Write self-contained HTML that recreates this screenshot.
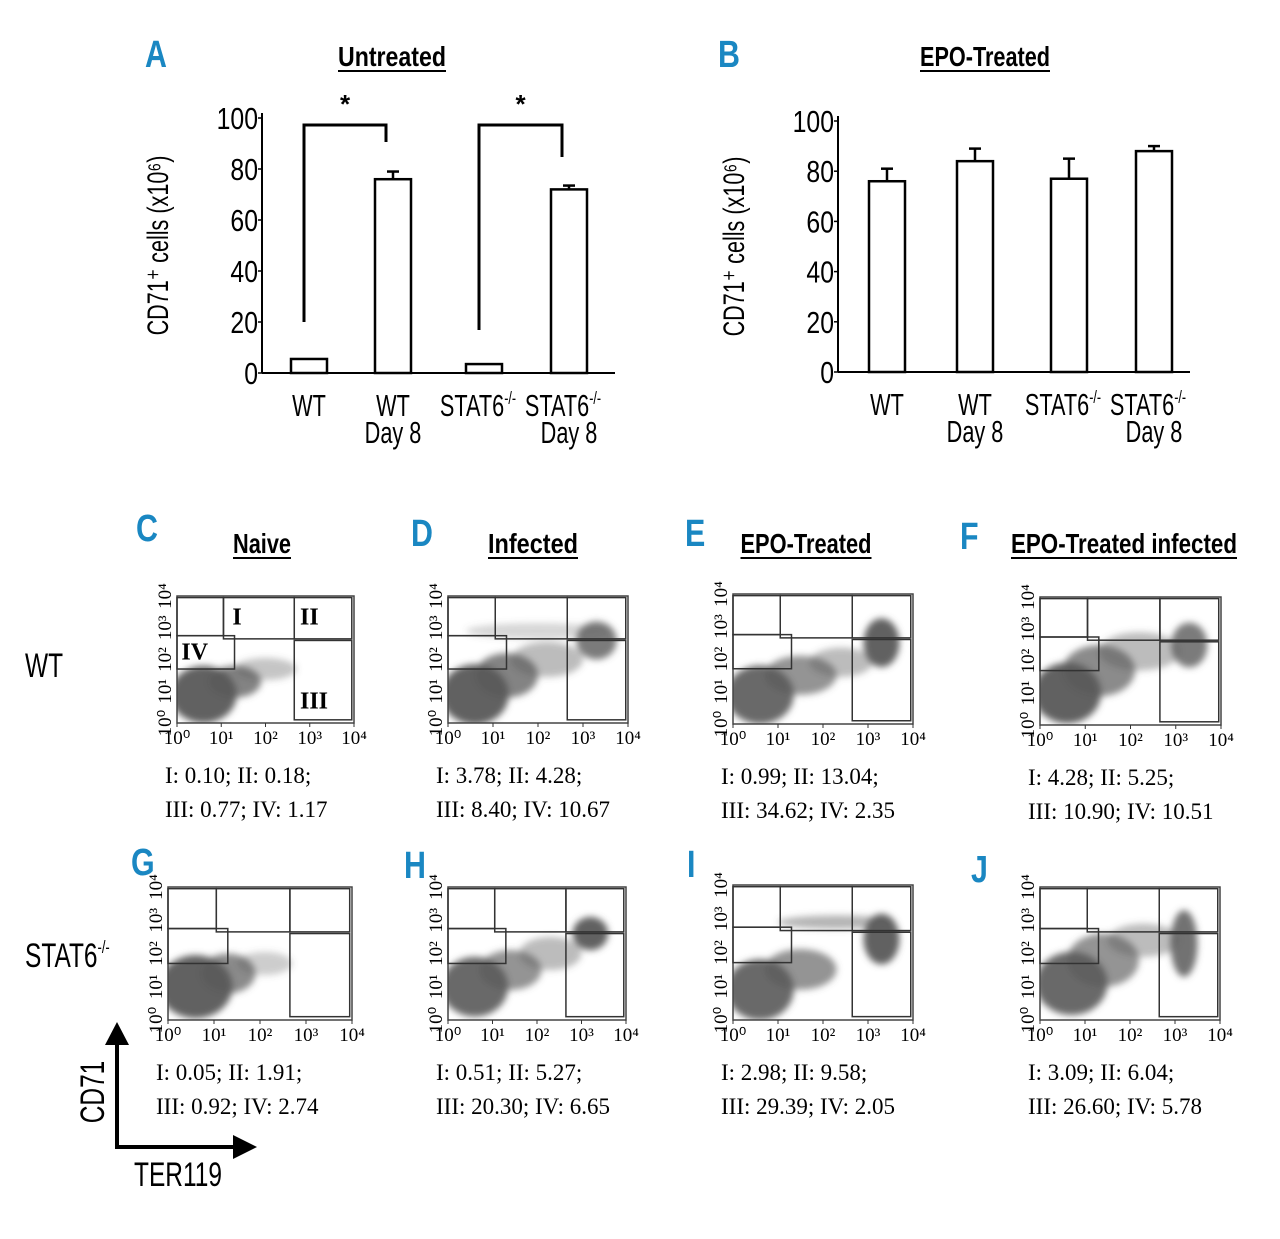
<!DOCTYPE html>
<html><head><meta charset="utf-8">
<style>
html,body{margin:0;padding:0;background:#fff;}
svg{display:block;}
text{font-family:"Liberation Sans",sans-serif;}
.serif{font-family:"Liberation Serif",serif;}
</style></head>
<body>
<svg id="fig" width="1280" height="1239" viewBox="0 0 1280 1239" xmlns="http://www.w3.org/2000/svg">
<defs>
<filter id="blur" x="-50%" y="-50%" width="200%" height="200%"><feGaussianBlur stdDeviation="3.5"/></filter>
</defs>
<g id="root"></g>
</svg>
<script>
// ---- Bar chart data ----
const barCats = ["WT","WT|Day 8","STAT6-/-","STAT6-/-|Day 8"];
const untreatedVals = [5.5, 76, 3.5, 72];
const untreatedErr = [0, 3, 0, 1.5];
const epoVals = [76, 84, 77, 88];
const epoErr = [5, 5, 8, 2];
const yTicks = [0,20,40,60,80,100];
// ---- Flow panel data ----
const flowLetters = ["C","D","E","F","G","H","I","J"];
const flowStatsA = ["I: 0.10; II: 0.18;","I: 3.78; II: 4.28;","I: 0.99; II: 13.04;","I: 4.28; II: 5.25;","I: 0.05; II: 1.91;","I: 0.51; II: 5.27;","I: 2.98; II: 9.58;","I: 3.09; II: 6.04;"];
const flowStatsB = ["III: 0.77; IV: 1.17","III: 8.40; IV: 10.67","III: 34.62; IV: 2.35","III: 10.90; IV: 10.51","III: 0.92; IV: 2.74","III: 20.30; IV: 6.65","III: 29.39; IV: 2.05","III: 26.60; IV: 5.78"];
// density blobs [cx, cy, rx, ry, opacity] in log10 units
const flowBlobs = [
 [[0.6,0.9,0.75,0.9,0.95],[1.3,1.3,0.6,0.5,0.75],[2.0,1.7,0.7,0.35,0.35]],
 [[0.6,0.9,0.75,0.95,0.95],[1.3,1.5,0.7,0.7,0.75],[2.2,2.0,0.8,0.55,0.4],[3.3,2.6,0.45,0.6,0.8],[2.0,2.9,1.6,0.25,0.25]],
 [[0.6,0.9,0.75,0.9,0.9],[1.5,1.5,0.8,0.6,0.65],[2.4,1.9,0.7,0.45,0.4],[3.3,2.5,0.4,0.75,0.95]],
 [[0.6,1.0,0.75,0.95,0.95],[1.3,1.7,0.8,0.8,0.7],[2.2,2.3,0.9,0.6,0.4],[3.3,2.5,0.4,0.7,0.8]],
 [[0.6,1.0,0.8,0.95,0.95],[1.3,1.4,0.6,0.6,0.7],[2.1,1.7,0.6,0.35,0.3]],
 [[0.6,1.0,0.75,0.9,0.9],[1.4,1.5,0.7,0.6,0.65],[2.3,2.0,0.7,0.5,0.4],[3.2,2.6,0.4,0.5,0.95]],
 [[0.6,0.9,0.75,0.9,0.9],[1.5,1.5,0.8,0.6,0.65],[2.3,2.9,1.3,0.2,0.45],[3.3,2.4,0.4,0.75,0.95]],
 [[0.7,1.1,0.8,0.95,0.9],[1.4,1.8,0.8,0.8,0.65],[2.3,2.4,0.8,0.5,0.4],[3.2,2.3,0.3,1.0,0.85]]
];
const axisTicks = ["10⁰","10¹","10²","10³","10⁴"];

const NS="http://www.w3.org/2000/svg";
const root=document.getElementById('root');
function el(tag,attrs,parent){const e=document.createElementNS(NS,tag);for(const k in attrs)e.setAttribute(k,attrs[k]);(parent||root).appendChild(e);return e;}
function txt(s,attrs,parent){const e=el('text',attrs,parent);e.textContent=s;return e;}

// ---- Bar charts ----
function barChart(cfg){
  const g=el('g',{});
  
  
  const y=v=>cfg.y0-(v/100)*(cfg.y0-cfg.y100);
  el('line',{x1:cfg.ax,y1:cfg.y100-5,x2:cfg.ax,y2:cfg.y0,stroke:'#000','stroke-width':2},g);
  el('line',{x1:cfg.ax,y1:cfg.y0,x2:cfg.axEnd,y2:cfg.y0,stroke:'#000','stroke-width':2},g);
  yTicks.forEach(t=>{
    el('line',{x1:cfg.ax-4,y1:y(t),x2:cfg.ax,y2:y(t),stroke:'#000','stroke-width':1.5},g);
    const tl=txt(String(t),{x:0,y:0,'text-anchor':'end','font-size':31,transform:`translate(${cfg.ax-4},${y(t)+11}) scale(0.8,1)`},g);
    
    
  });
  const yt=txt('CD71⁺ cells (x10⁶)',{x:0,y:0,'font-size':30,'text-anchor':'middle',transform:`translate(${cfg.ax-94},${(cfg.y0+cfg.y100)/2}) rotate(-90) scale(0.72,1)`},g);
  
  
  cfg.vals.forEach((v,i)=>{
    const cx=cfg.cx[i];
    const b=el('rect',{x:cx-18,y:y(v),width:36,height:y(0)-y(v),fill:'#fff',stroke:'#000','stroke-width':2.5},g);
    
    
    if(cfg.err[i]>0){
      el('line',{x1:cx,y1:y(v),x2:cx,y2:y(v+cfg.err[i]),stroke:'#000','stroke-width':2.5},g);
      el('line',{x1:cx-6,y1:y(v+cfg.err[i]),x2:cx+6,y2:y(v+cfg.err[i]),stroke:'#000','stroke-width':2.5},g);
    }
    const parts=barCats[i].split('|');
    parts.forEach((p,j)=>{
      const lab=txt(p.replace('-/-',''),{x:0,y:0,'font-size':31,'text-anchor':'middle',transform:`translate(${cx+(p.includes('-/-')?-6:0)},${cfg.y0+43+j*27}) scale(0.7,1)`},g);
      if(p.includes('-/-')){const ts=el('tspan',{'font-size':18,dy:-12},lab);ts.textContent='-/-';}
      
      
    });
  });
  return {g,y};
}
const A=barChart({name:'chart-untreated',ax:262,axEnd:615,y0:373,y100:118,cx:[309,393,484,569],vals:untreatedVals,err:untreatedErr});
const B=barChart({name:'chart-epo-treated',ax:838,axEnd:1190,y0:372,y100:121,cx:[887,975,1069,1154],vals:epoVals,err:epoErr});
// significance brackets
[[0,1],[2,3]].forEach((pr,k)=>{
  const x1=[309,393,484,569][pr[0]]-5,x2=[309,393,484,569][pr[1]]-7;
  const top=125;
  const p=el('path',{d:`M${x1} ${k?330:322} V${top} H${x2} V${k?157:142}`,fill:'none',stroke:'#000','stroke-width':3},A.g);
  
  
  const s=txt('*',{x:(x1+x2)/2,y:113,'font-size':26,'font-weight':'bold','text-anchor':'middle'},A.g);
  
  
});

// ---- Titles / letters ----
function letter(s,x,y){const t=txt(s,{x:0,y:0,'font-size':38,'font-weight':'bold',fill:'#1a87c2',transform:`translate(${x},${y}) scale(0.8,1)`});}
function title(s,cx,y,w){const t=txt(s,{x:cx,y:y,'font-size':28,'font-weight':'bold','text-anchor':'middle',textLength:w,lengthAdjust:'spacingAndGlyphs'});el('line',{x1:cx-w/2,y1:y+5,x2:cx+w/2,y2:y+5,stroke:'#000','stroke-width':2});}
letter('A',145,67);letter('B',718,67);
title('Untreated',392,66,108);title('EPO-Treated',985,66,130);
title('Naive',262,553,58);title('Infected',533,553,90);title('EPO-Treated',806,553,131);title('EPO-Treated infected',1124,553,226);
const letterPos=[[136,541],[411,546],[685,546],[960,549],[131,875],[404,878],[687,877],[971,882]];
flowLetters.forEach((L,i)=>letter(L,letterPos[i][0],letterPos[i][1]));
const rw=txt('WT',{x:0,y:0,'font-size':34,transform:'translate(25,677) scale(0.72,1)'});
const rs=txt('STAT6',{x:0,y:0,'font-size':34,transform:'translate(25,967) scale(0.72,1)'});const rss=el('tspan',{'font-size':18,dy:-14},rs);rss.textContent='-/-';


// ---- Flow plots ----
const boxes=[[177,596,177,127],[448,596,180,127],[733,594,180,130],[1040,597,181,128],[168,887,184,133],[448,887,178,133],[733,885,180,135],[1040,887,180,133]];
boxes.forEach((bx,i)=>{
  const [x0,y0,w,h]=bx;
  const g=el('g',{});
  
  
  const X=v=>x0+v/4*w, Y=v=>y0+h-v/4*h;
  const cid='clip'+i;
  const cp=el('clipPath',{id:cid},g);el('rect',{x:x0,y:y0,width:w,height:h},cp);
  const bg=el('g',{'clip-path':`url(#${cid})`},g);
  const bl=el('g',{filter:'url(#blur)'},bg);
  flowBlobs[i].forEach(b=>{
    const e=el('ellipse',{cx:X(b[0]),cy:Y(b[1]),rx:b[2]/4*w,ry:b[3]/4*h,fill:'#5a5a5a','fill-opacity':b[4]},bl);
    
    
  });
  el('rect',{x:x0,y:y0,width:w,height:h,fill:'none',stroke:'#444','stroke-width':1.5},g);
  const gates=[[0,1.3,1.7,2.75,'IV'],[1.05,2.65,2.65,3.95,'I'],[2.65,3.95,2.65,3.95,'II'],[2.65,3.95,0.1,2.6,'III'],[0,1.05,2.75,3.95,'']];
  const labPos={IV:[0.1,2.0],I:[1.25,3.1],II:[2.78,3.1],III:[2.78,0.45]};
  gates.forEach(gt=>{
    const r=el('rect',{x:X(gt[0]),y:Y(gt[3]),width:X(gt[1])-X(gt[0]),height:Y(gt[2])-Y(gt[3]),fill:'none',stroke:'#333','stroke-width':1.5},g);
    
    
    if(i===0&&gt[4]){const lp=labPos[gt[4]];txt(gt[4],{x:X(lp[0]),y:Y(lp[1]),'font-size':24,'font-weight':'bold',class:'serif'},g);}
  });
  axisTicks.forEach((t,k)=>{
    const tx=txt(t,{x:X(k),y:y0+h+21,'font-size':19,'text-anchor':'middle',class:'serif'},g);
    
    
    const ty=txt(t,{x:0,y:0,'font-size':19,'text-anchor':'middle',class:'serif',transform:`translate(${x0-6},${Y(k)}) rotate(-90)`},g);
    
    
    el('line',{x1:X(k),y1:y0+h,x2:X(k),y2:y0+h+4,stroke:'#333'},g);
  });
  const sa=txt(flowStatsA[i],{x:x0-12,y:y0+h+60,'font-size':23,class:'serif'},g);
  
  const sb=txt(flowStatsB[i],{x:x0-12,y:y0+h+94,'font-size':23,class:'serif'},g);
  
});

// ---- Axis legend arrows ----
const ag=el('g',{});


el('line',{x1:117,y1:1147,x2:117,y2:1040,stroke:'#000','stroke-width':4},ag);
el('polygon',{points:'105,1045 129,1045 117,1022',fill:'#000'},ag);
el('line',{x1:115,y1:1147,x2:238,y2:1147,stroke:'#000','stroke-width':4},ag);
el('polygon',{points:'233,1135 233,1159 257,1147',fill:'#000'},ag);
txt('CD71',{x:0,y:0,'font-size':34,'text-anchor':'middle',transform:'translate(104,1092) rotate(-90) scale(0.72,1)'},ag);
txt('TER119',{x:0,y:0,'font-size':34,'text-anchor':'middle',transform:'translate(178,1186) scale(0.72,1)'},ag);
</script>
</body></html>
